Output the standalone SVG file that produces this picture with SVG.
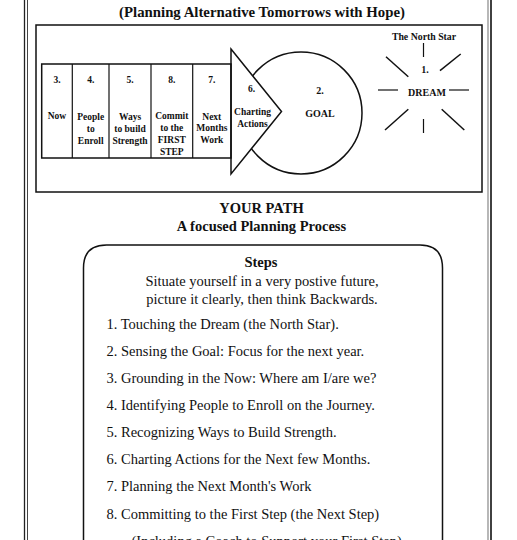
<svg xmlns="http://www.w3.org/2000/svg" width="517" height="540" viewBox="0 0 517 540">
<style>
  .b { font-family: "Liberation Serif", "Times New Roman", serif; font-weight: bold; fill: #111; text-anchor: middle; }
  .s { font-size: 9.5px; }
  .r { font-family: "Liberation Serif", "Times New Roman", serif; fill: #111; font-size: 14.5px; }
  .ln { stroke: #111; stroke-width: 1.5; fill: none; }
  .thin { stroke: #111; stroke-width: 1.2; fill: none; }
</style>
<rect width="517" height="540" fill="#fff"/>
<g id="page-border">
  <line x1="24.5" y1="0" x2="24.5" y2="540" stroke="#222" stroke-width="1.3"/>
  <line x1="27.5" y1="0" x2="27.5" y2="540" stroke="#444" stroke-width="1"/>
  <line x1="488" y1="0" x2="488" y2="540" stroke="#888" stroke-width="1.2"/>
  <line x1="491" y1="0" x2="491" y2="540" stroke="#111" stroke-width="1.6"/>
</g>
<text id="title" class="b" x="262" y="16.5" font-size="14.8">(Planning Alternative Tomorrows with Hope)</text>
<rect id="frame" x="36" y="25" width="446" height="167" class="ln"/>

<g id="goal">
  <circle cx="301" cy="113" r="61" class="ln"/>
  <text class="b" x="320" y="94" font-size="10">2.</text>
  <text class="b" x="320" y="116.5" font-size="10">GOAL</text>
</g>
<g id="charting-actions">
  <polygon points="231,49 281.5,111.5 231,174" fill="#fff" stroke="#111" stroke-width="1.5"/>
  <text class="b s" x="251.5" y="92">6.</text>
  <text class="b s" x="252.5" y="115">Charting</text>
  <text class="b s" x="252.5" y="126.5">Actions</text>
</g>
<g id="path-boxes">
  <rect x="41.7" y="64" width="189.3" height="94" class="ln"/>
  <line x1="72.3" y1="64" x2="72.3" y2="158" class="thin"/>
  <line x1="109" y1="64" x2="109" y2="158" class="thin"/>
  <line x1="151" y1="64" x2="151" y2="158" class="thin"/>
  <line x1="192.7" y1="64" x2="192.7" y2="158" class="thin"/>
</g>
<g id="now">
  <text class="b s" x="57" y="82.5">3.</text>
  <text class="b s" x="57" y="118.5">Now</text>
</g>
<g id="people">
  <text class="b s" x="90.7" y="82.5">4.</text>
  <text class="b s" x="90.7" y="119.5">People</text>
  <text class="b s" x="90.7" y="131.5">to</text>
  <text class="b s" x="90.7" y="143.5">Enroll</text>
</g>
<g id="ways">
  <text class="b s" x="130" y="82.5">5.</text>
  <text class="b s" x="130" y="120">Ways</text>
  <text class="b s" x="130" y="131.5">to build</text>
  <text class="b s" x="130" y="143.5">Strength</text>
</g>
<g id="commit">
  <text class="b s" x="171.8" y="82.5">8.</text>
  <text class="b s" x="171.8" y="118.5">Commit</text>
  <text class="b s" x="171.8" y="130.5">to the</text>
  <text class="b s" x="171.8" y="142.5">FIRST</text>
  <text class="b s" x="171.8" y="154.5">STEP</text>
</g>
<g id="next-months">
  <text class="b s" x="211.8" y="82.5">7.</text>
  <text class="b s" x="211.8" y="119.5">Next</text>
  <text class="b s" x="211.8" y="131">Months</text>
  <text class="b s" x="211.8" y="142.5">Work</text>
</g>
<g id="dream">
  <text class="b" x="424" y="40" font-size="9.8">The North Star</text>
  <line x1="423.5" y1="43" x2="423.5" y2="57" class="thin"/>
  <text class="b" x="425" y="73" font-size="10">1.</text>
  <text class="b" x="427" y="96" font-size="10">DREAM</text>
  <line x1="378" y1="90" x2="398" y2="90" class="thin"/>
  <line x1="449" y1="90" x2="469" y2="90" class="thin"/>
  <line x1="386" y1="56.7" x2="408.3" y2="76.7" class="ln"/>
  <line x1="440" y1="70.7" x2="460.7" y2="54" class="ln"/>
  <line x1="385" y1="130" x2="408.3" y2="109.3" class="ln"/>
  <line x1="441.7" y1="109.3" x2="464.3" y2="130" class="ln"/>
  <line x1="423.5" y1="119" x2="423.5" y2="133" class="thin"/>
</g>

<text class="b" x="261.5" y="213" font-size="14.5">YOUR PATH</text>
<text class="b" x="261.5" y="231" font-size="14.5">A focused Planning Process</text>

<g id="steps">
  <path d="M83.5,545 L83.5,268 Q83.5,245 106.5,245 L420,245 Q442.5,245 442.5,268 L442.5,545" class="ln"/>
  <text class="b" x="261" y="266.5" font-size="14.5">Steps</text>
  <text class="r" x="262" y="285.5" text-anchor="middle">Situate yourself in a very postive future,</text>
  <text class="r" x="262" y="304" text-anchor="middle">picture it clearly, then think Backwards.</text>
  <text class="r" x="106.5" y="328.5">1. Touching the Dream (the North Star).</text>
  <text class="r" x="106.5" y="356">2. Sensing the Goal: Focus for the next year.</text>
  <text class="r" x="106.5" y="382.5">3. Grounding in the Now: Where am I/are we?</text>
  <text class="r" x="106.5" y="410">4. Identifying People to Enroll on the Journey.</text>
  <text class="r" x="106.5" y="437">5. Recognizing Ways to Build Strength.</text>
  <text class="r" x="106.5" y="464">6. Charting Actions for the Next few Months.</text>
  <text class="r" x="106.5" y="491">7. Planning the Next Month's Work</text>
  <text class="r" x="106.5" y="518.5">8. Committing to the First Step (the Next Step)</text>
  <text class="r" x="131.5" y="545.5">(Including a Coach to Support your First Step)</text>
</g>
</svg>
